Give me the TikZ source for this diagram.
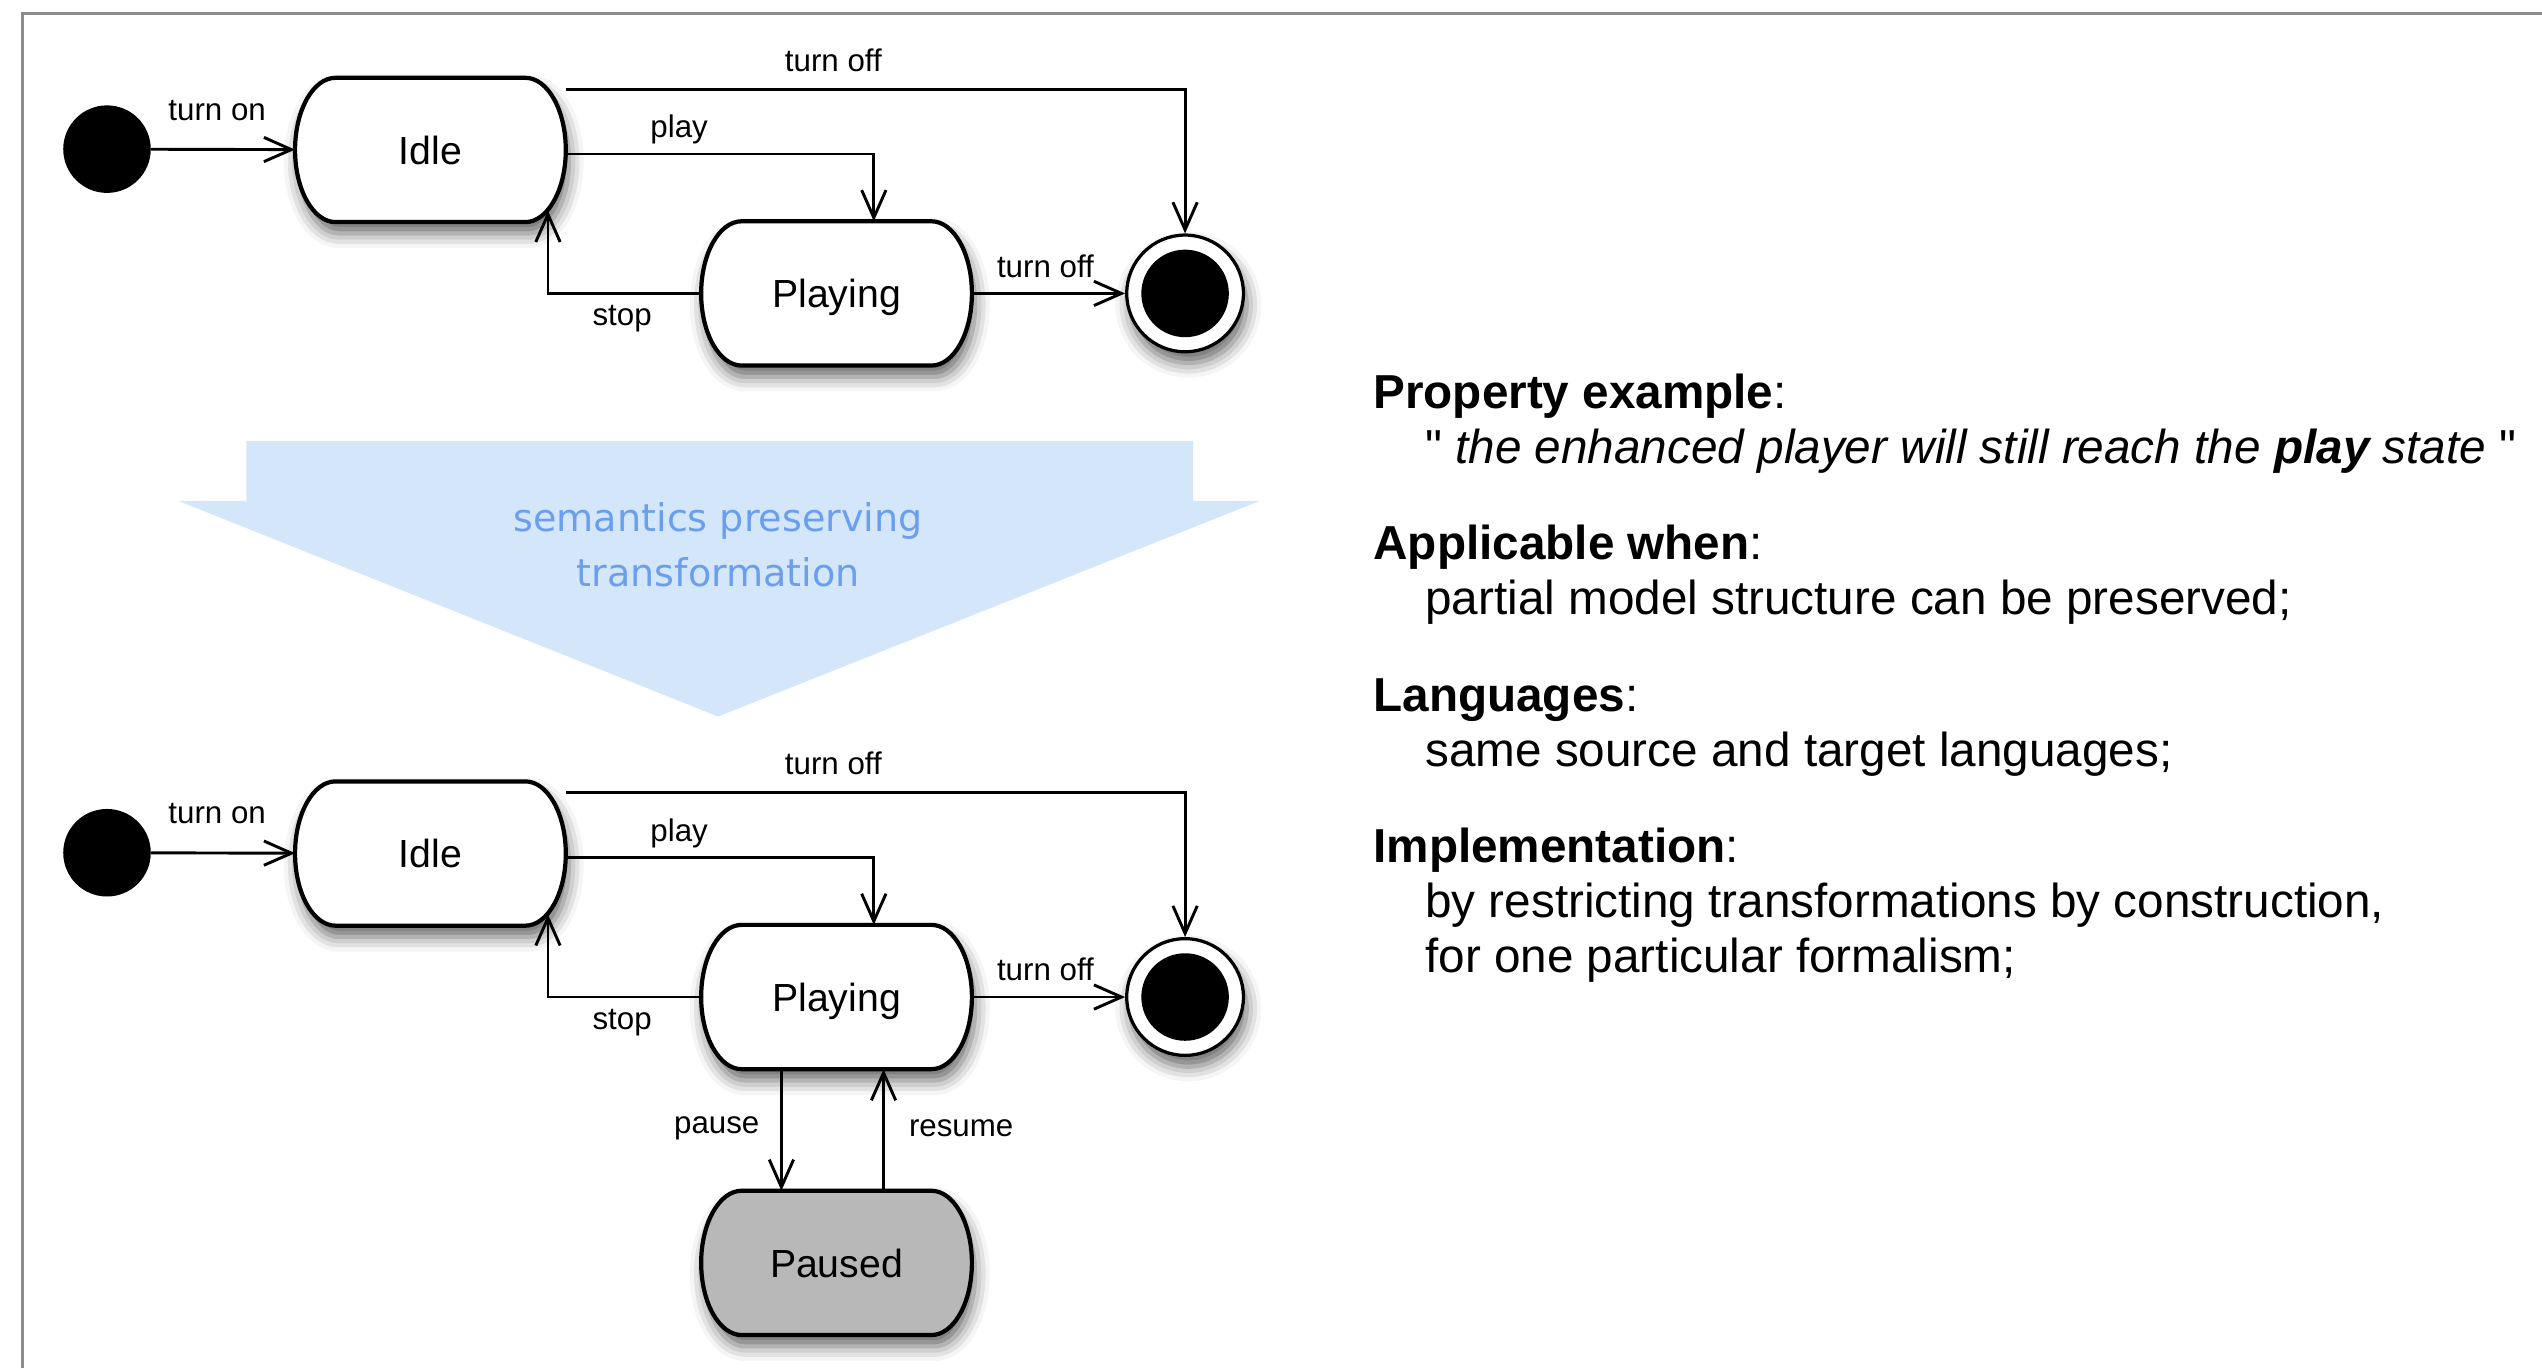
\documentclass[tikz,border=0pt]{standalone}
\usepackage{fontspec}
\setmainfont{Liberation Sans}
\newfontfamily\plainsans{Liberation Sans}
\newfontfamily\xformfont{DejaVu Sans}
\usepackage{tikz}
\usetikzlibrary{arrows.meta, positioning, shadows.blur}

\definecolor{framegray}{RGB}{140,140,140}
\definecolor{xformfill}{RGB}{212,231,250}
\definecolor{xformtext}{RGB}{108,158,240}
\definecolor{pausegray}{RGB}{184,184,184}

\pgfdeclarelayer{background}
\pgfsetlayers{background,main}

\tikzset{
  statenode/.style={minimum width=167pt, minimum height=89pt, inner sep=0pt, outer sep=0pt, text depth=0pt, font=\fontsize{24.2}{29}\selectfont},
  stateline/.style={line width=2.6pt, blur shadow={shadow xshift=2pt, shadow yshift=-7pt, shadow blur radius=9pt, shadow opacity=60}},
  initnode/.style={circle, fill=black, minimum size=54pt, inner sep=0pt, outer sep=0pt},
  finalnode/.style={circle, minimum size=74pt, inner sep=0pt, outer sep=0pt},
  trans/.style={line width=1.8pt, -{Straight Barb[length=17pt, width=15pt]}},
  lbl/.style={font=\fontsize{19.3}{23}\selectfont, inner sep=0pt, anchor=base},
  txt/.style={font=\fontsize{29.4}{34}\selectfont, inner sep=0pt, anchor=base west},
}

% state outline with elliptic ends, drawn round a named node
\newcommand{\drawstate}[2]{%
  \draw[stateline, fill=#2] ([xshift=25pt]#1.north west) -- ([xshift=-25pt]#1.north east)
    arc[start angle=90, end angle=-90, x radius=25, y radius=44.5]
    -- ([xshift=25pt]#1.south west)
    arc[start angle=270, end angle=90, x radius=25, y radius=44.5] -- cycle;}
\newcommand{\drawfinal}[1]{%
  \draw[stateline, line width=2pt, fill=white] (#1) circle[radius=36];
  \fill (#1) circle[radius=27];}

\begin{document}
\begin{tikzpicture}[x=1pt, y=1pt]
\useasboundingbox (0,0) rectangle (1568,844);
\draw[framegray, line width=2pt] (14,0) -- (14,835.5) -- (1568,835.5);

% original player
\node[initnode] (init1) at (66,752) {};
\node[statenode] (idle1) at (265.5,751.5) {Idle};
\node[statenode] (play1) at (516,663) {Playing};
\node[finalnode] (final1) at (731,663) {};

% enhanced player
\node[initnode] (init2) at (66,318) {};
\node[statenode] (idle2) at (265.5,317.5) {Idle};
\node[statenode] (play2) at (516,229) {Playing};
\node[finalnode] (final2) at (731,229) {};
\node[statenode] (paused) at (516,65) {Paused};

\begin{pgfonlayer}{background}
\draw[trans] (init1) -- node[lbl, pos=0.46, yshift=18pt] {turn on} (idle1);
\draw[trans] ([yshift=-7pt]idle1.north east) -| node[lbl, pos=0.216, yshift=11pt] {turn off} (final1.north);
\draw[trans] ([yshift=-2.5pt]idle1.east) -| node[lbl, pos=0.184, yshift=10pt] {play} ([xshift=23pt]play1.north);
\draw[trans] (play1.west) -| node[lbl, pos=0.258, yshift=-20pt] {stop} ([shift={(72.5,7)}]idle1.south);
\draw[trans] (play1.east) -- node[lbl, pos=0.48, yshift=10pt] {turn off} (final1.west);

\draw[trans] (init2) -- node[lbl, pos=0.46, yshift=18pt] {turn on} (idle2);
\draw[trans] ([yshift=-7pt]idle2.north east) -| node[lbl, pos=0.216, yshift=11pt] {turn off} (final2.north);
\draw[trans] ([yshift=-2.5pt]idle2.east) -| node[lbl, pos=0.184, yshift=10pt] {play} ([xshift=23pt]play2.north);
\draw[trans] (play2.west) -| node[lbl, pos=0.258, yshift=-20pt] {stop} ([shift={(72.5,7)}]idle2.south);
\draw[trans] (play2.east) -- node[lbl, pos=0.48, yshift=10pt] {turn off} (final2.west);
\draw[trans] ([xshift=-34pt]play2.south) -- node[lbl, anchor=base east, xshift=-12.7pt, yshift=-2pt] {pause} ([xshift=-34pt]paused.north);
\draw[trans] ([xshift=29pt]paused.north) -- node[lbl, anchor=base west, xshift=14.8pt, yshift=-4pt] {resume} ([xshift=29pt]play2.south);

\drawstate{idle1}{white}
\drawstate{play1}{white}
\drawfinal{final1}
\drawstate{idle2}{white}
\drawstate{play2}{white}
\drawstate{paused}{pausegray}
\drawfinal{final2}
\end{pgfonlayer}

% transformation arrow
\fill[xformfill] (152,572) -- (736,572) -- (736,535) -- (777,535) -- (443,402) -- (110,535) -- (152,535) -- cycle;
\node[font=\xformfont\fontsize{23.5}{34}\selectfont, text=xformtext, align=center] (xform) at (443,508) {semantics preserving\\transformation};

% property text
\node[txt] (prophead) at (847,592) {\textbf{Property example}:};
\node[txt] (propbody) at ([shift={(32,-34)}]prophead.base west) {{\plainsans"} \textit{the enhanced player will still reach the \textbf{play} state} {\plainsans"}};
\node[txt] (apphead) at ([yshift=-93.3pt]prophead.base west) {\textbf{Applicable when}:};
\node[txt] (appbody) at ([shift={(32,-34)}]apphead.base west) {partial model structure can be preserved;};
\node[txt] (langhead) at ([yshift=-93.3pt]apphead.base west) {\textbf{Languages}:};
\node[txt] (langbody) at ([shift={(32,-34)}]langhead.base west) {same source and target languages;};
\node[txt] (implhead) at ([yshift=-93.3pt]langhead.base west) {\textbf{Implementation}:};
\node[txt] (implbodyA) at ([shift={(32,-34)}]implhead.base west) {by restricting transformations by construction,};
\node[txt] (implbodyB) at ([yshift=-34pt]implbodyA.base west) {for one particular formalism;};

\end{tikzpicture}
\end{document}
